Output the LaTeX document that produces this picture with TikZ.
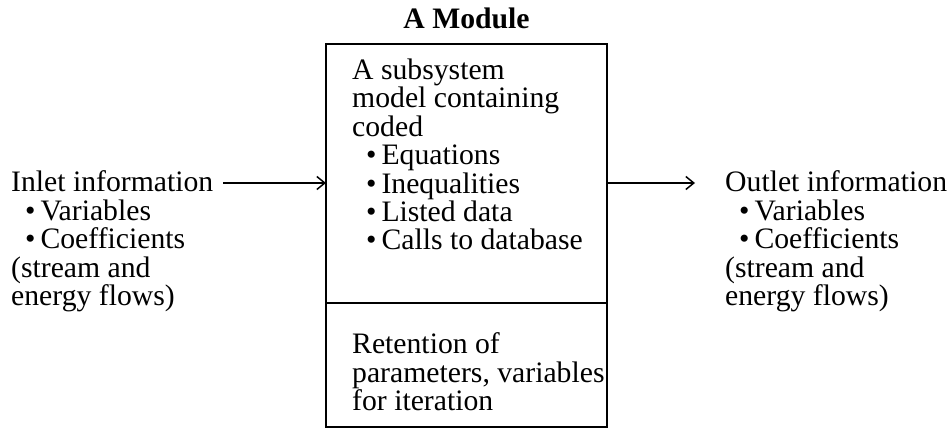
\documentclass[tikz,border=0pt]{standalone}
\usepackage{fontspec}
\setmainfont{Liberation Serif}
\usetikzlibrary{positioning,arrows.meta}
\newcommand{\itm}[1]{\hspace*{14pt}\textbullet\,#1}

\begin{document}
\begin{tikzpicture}[x=1pt,y=-1pt,
  txt/.style={font=\fontsize{29.7}{28.4}\selectfont,align=left,inner sep=0pt},
  modbox/.style={draw,line width=2.8pt,minimum width=281pt,inner sep=0pt,outer sep=0pt},
  flow/.style={-{Straight Barb[length=8pt,width=13pt]},line width=1.5pt}]
  \useasboundingbox (0,0) rectangle (952,430);
  \node[modbox,minimum height=259pt,anchor=north west](model)at(326,44){};
  \node[modbox,minimum height=124pt,below=0pt of model](retain){};
  \node[txt,font=\fontsize{29.7}{28.4}\selectfont\bfseries,anchor=base](title)at(466.5,29){A Module};
  \node[txt,anchor=north west](modtext)at(352,58.7){A subsystem\\model containing\\coded\\
    \itm{Equations}\\\itm{Inequalities}\\\itm{Listed data}\\\itm{Calls to database}};
  \node[txt,anchor=north west](retext)at(352,332.7){Retention of\\parameters, variables\\for iteration};
  \node[txt,anchor=north west](inlet)at(11,170.7){Inlet information\\\itm{Variables}\\
    \itm{Coefficients}\\(stream and\\energy flows)};
  \node[txt,anchor=north west](outlet)at(725,170.7){Outlet information\\\itm{Variables}\\
    \itm{Coefficients}\\(stream and\\energy flows)};
  \coordinate(inarrow)at(223,183);
  \coordinate(outarrow)at(695,183);
  \draw[flow](inarrow)--(inarrow-|model.west);
  \draw[flow](outarrow-|model.east)--(outarrow);
\end{tikzpicture}
\end{document}
